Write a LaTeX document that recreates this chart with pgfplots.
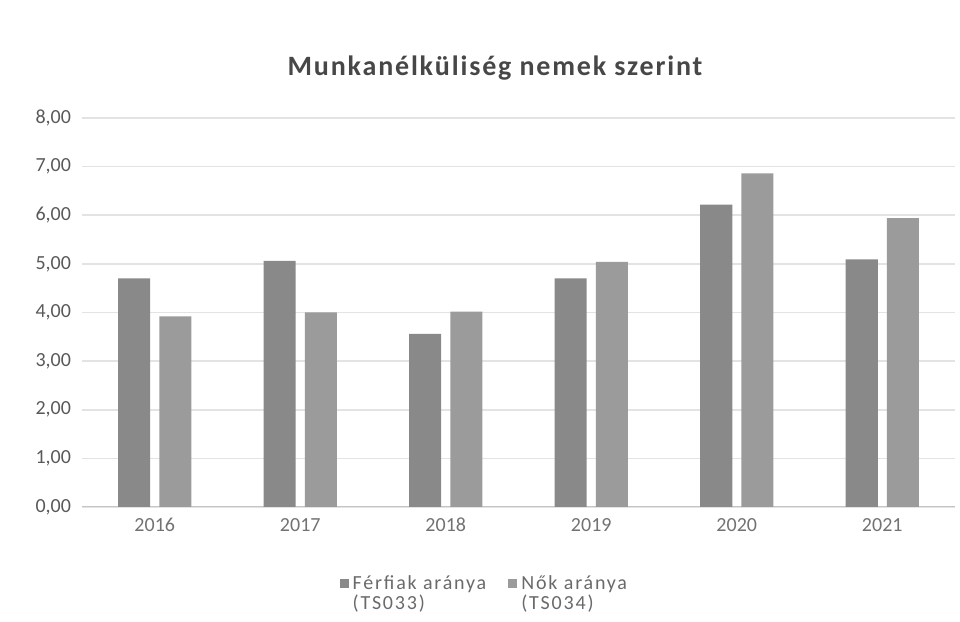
\documentclass[border=0pt]{standalone}
\usepackage{pgfplots}
\pgfplotsset{compat=1.18}
\usepackage{fontspec}
\setmainfont{Carlito}
\newfontfamily\titlefont[LetterSpace=6.5]{Carlito}
\newfontfamily\legfont[LetterSpace=9]{Carlito}
\definecolor{barF}{HTML}{898989}
\definecolor{barN}{HTML}{9B9B9B}
\definecolor{txt}{HTML}{595959}
\definecolor{gridc}{HTML}{E3E3E3}
\begin{document}
\begin{tikzpicture}
\begin{axis}[
  scale only axis,
  width=436.5pt, height=194.5pt,
  xmin=-0.5, xmax=5.5,
  ymin=0, ymax=8,
  ytick={0,1,...,8},
  xtick={0,1,2,3,4,5},
  xticklabels={2016,2017,2018,2019,2020,2021},
  axis line style={draw=none},
  axis x line*=bottom,
  axis y line*=left,
  major tick length=0pt,
  ymajorgrids,
  grid style={gridc, line width=0.8pt},
  tick label style={font=\fontsize{10}{12}\selectfont, text=txt},
  xticklabel style={yshift=-2pt, text=txt!85!white},
  yticklabel style={xshift=-2pt},
  /pgf/number format/assume math mode=true,
  /pgf/number format/.cd, fixed, fixed zerofill, precision=2, use comma,
  /pgfplots/.cd,
  ybar=0pt,
  bar width=0.22,
  legend style={at={(0.462,-0.155)}, anchor=north, draw=none, legend columns=2,
    font=\legfont\fontsize{10}{8}\selectfont, text=txt!90!white, align=left,
    /tikz/every even column/.append style={column sep=9pt},
    /tikz/every odd column/.append style={inner xsep=1pt}},
  legend cell align=left,
  legend image code/.code={\fill[#1] (0cm,0.10cm) rectangle (0.16cm,0.26cm);},
]
\draw[gridc!70!gray, line width=0.8pt] (axis cs:-0.5,0) -- (axis cs:5.5,0);
\addplot[fill=barF, draw=none, bar shift=-0.141] coordinates {(0,4.70) (1,5.06) (2,3.56) (3,4.70) (4,6.22) (5,5.09)};
\addplot[fill=barN, draw=none, bar shift=0.141] coordinates {(0,3.92) (1,4.00) (2,4.02) (3,5.04) (4,6.86) (5,5.94)};
\legend{Férfiak aránya\\(TS033), Nők aránya\\(TS034)}
\end{axis}
\node[font=\titlefont\fontsize{14}{16}\selectfont\bfseries, text=txt!80!black] at ([xshift=-11.75pt, yshift=25pt]current axis.north) {Munkanélküliség nemek szerint};
\path (current axis.south west) ++(-41pt,-57.5pt);
\path (current axis.north east) ++(2.5pt,59pt);
\end{tikzpicture}
\end{document}
